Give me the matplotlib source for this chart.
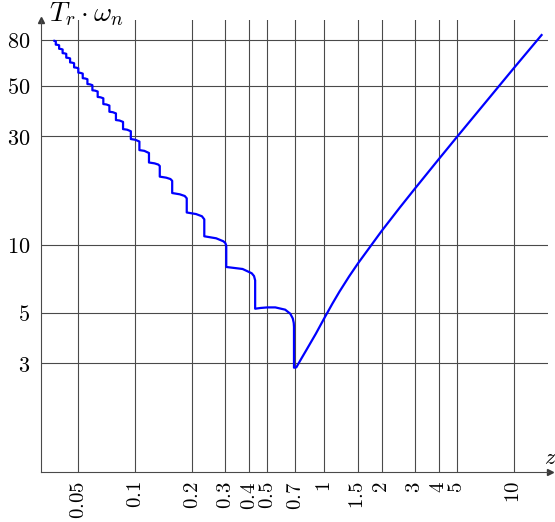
import matplotlib.pyplot as plt
from matplotlib.ticker import NullLocator

plt.rcParams['mathtext.fontset'] = 'cm'
plt.rcParams['font.family'] = 'DejaVu Serif'

# staircase part (underdamped, each step = one more oscillation inside the 5% band)
zeta_under = [0.0375, 0.03812,
              0.03812, 0.03891, 0.03970, 0.03970, 0.04056, 0.04142,
              0.04142, 0.04236, 0.04330, 0.04330, 0.04433, 0.04536,
              0.04536, 0.04649, 0.04762, 0.04762, 0.04887, 0.05013,
              0.05013, 0.05151, 0.05290, 0.05290, 0.05445, 0.05600,
              0.05600, 0.05774, 0.05949, 0.05949, 0.06146, 0.06344,
              0.06344, 0.06570, 0.06795, 0.06795, 0.07055, 0.07316,
              0.07316, 0.07619, 0.07921, 0.07921, 0.0828, 0.08636,
              0.08636, 0.09064, 0.09493, 0.09493, 0.10015, 0.10536,
              0.10536, 0.11187, 0.11836,
              0.11836, 0.12668, 0.13248, 0.13497,
              0.13497, 0.14599, 0.15368, 0.15696,
              0.15696, 0.17221, 0.18281, 0.18734,
              0.18734, 0.20977, 0.22530, 0.23189,
              0.23189, 0.26796, 0.29256, 0.29947, 0.30292,
              0.30292, 0.36925, 0.41260, 0.42450, 0.43037,
              0.43037, 0.46, 0.5, 0.55, 0.62, 0.66, 0.68, 0.688, 0.6901]
ts_under = [78.93, 78.60,
            75.93, 75.80, 75.46, 72.81, 72.67, 72.32,
            69.68, 69.53, 69.18, 66.55, 66.40, 66.04,
            63.42, 63.27, 62.90, 60.30, 60.14, 59.77,
            57.17, 57.02, 56.63, 54.05, 53.89, 53.49,
            50.93, 50.77, 50.35, 47.81, 47.64, 47.22,
            44.69, 44.52, 44.08, 41.58, 41.40, 40.95,
            38.46, 38.29, 37.82, 35.36, 35.18, 34.69,
            32.25, 32.07, 31.56, 29.16, 28.96, 28.43,
            26.07, 25.87, 25.31,
            22.99, 22.79, 22.52, 22.19,
            19.92, 19.71, 19.44, 19.09,
            16.87, 16.65, 16.37, 15.99,
            13.85, 13.63, 13.33, 12.92,
            10.88, 10.66, 10.34, 10.16, 9.89,
            7.97, 7.81, 7.48, 7.27, 6.96,
            5.22, 5.26, 5.29, 5.29, 5.17, 4.96, 4.73, 4.52, 4.34]

# after the minimum
zeta_over = [0.6901, 0.71, 0.75, 0.8, 0.9, 1.0, 1.1, 1.2, 1.35, 1.5,
             2, 2.5, 3, 4, 5, 7, 10, 14]
ts_over = [2.87, 2.88, 3.12, 3.42, 4.05, 4.76, 5.49, 6.21, 7.25, 8.25,
           11.46, 14.57, 17.63, 23.71, 29.76, 41.79, 59.9, 83.7]

xticks = [0.05, 0.1, 0.2, 0.3, 0.4, 0.5, 0.7, 1, 1.5, 2, 3, 4, 5, 10]
xtick_labels = ['0.05', '0.1', '0.2', '0.3', '0.4', '0.5', '0.7',
                '1', '1.5', '2', '3', '4', '5', '10']
yticks = [3, 5, 10, 30, 50, 80]
ytick_labels = ['3', '5', '10', '30', '50', '80']

W, H = 555, 522
fig = plt.figure(figsize=(W / 100, H / 100), dpi=100)
ax = fig.add_axes([41 / W, (H - 471.7) / H, (548 - 41) / W, (471.7 - 20) / H])
ax.set_xscale('log')
ax.set_yscale('log')

ax.plot(zeta_under + zeta_over, ts_under + ts_over, color='#0000ff', lw=1.6,
        solid_joinstyle='round', zorder=3)

ax.set_xlim(0.03185, 15.14)
ax.set_ylim(1, 97.5)

ax.set_xticks(xticks, labels=['$' + s + '$' for s in xtick_labels], rotation=90)
ax.set_yticks(yticks, labels=['$' + s + '$' for s in ytick_labels])
ax.xaxis.set_minor_locator(NullLocator())
ax.yaxis.set_minor_locator(NullLocator())
ax.tick_params(axis='x', length=0, pad=7, labelsize=15)
ax.tick_params(axis='y', length=0, pad=8, labelsize=16)

ax.grid(True, color='#4a4a4a', lw=0.8)
for s in ['top', 'right']:
    ax.spines[s].set_visible(False)
for s in ['left', 'bottom']:
    ax.spines[s].set_color('#4a4a4a')
    ax.spines[s].set_linewidth(0.8)

# arrow heads
ax.plot([1.004], [0], marker='>', color='#3a3a3a', ms=5, transform=ax.transAxes, clip_on=False)
ax.plot([0], [1.0], marker='^', color='#3a3a3a', ms=5, transform=ax.transAxes, clip_on=False)

fig.text(49 / W, (H - 21) / H, r'$T_r \cdot \omega_n$', fontsize=20, va='baseline')
fig.text(544 / W, (H - 464) / H, r'$z$', fontsize=16, va='baseline')

fig.savefig('out.png', dpi=100)
